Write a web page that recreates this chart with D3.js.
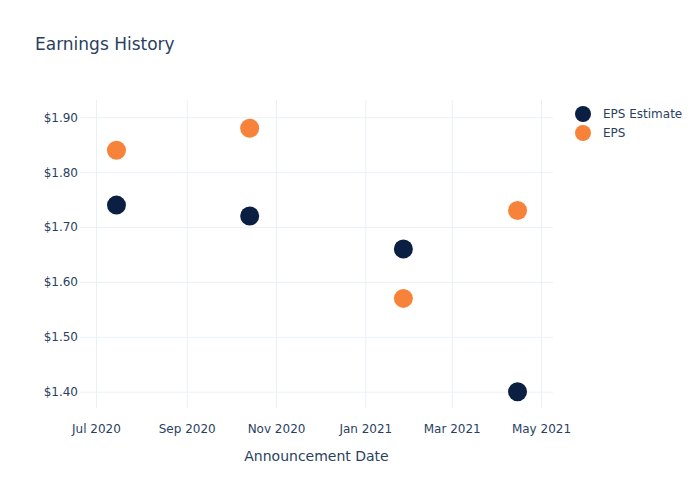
<!DOCTYPE html>
<html>
<head>
<meta charset="utf-8">
<script src="https://cdn.jsdelivr.net/npm/d3@7"></script>
<style>
  html, body { margin: 0; padding: 0; background: #fff; }
  svg { display: block; font-family: "DejaVu Sans", Verdana, sans-serif; }
</style>
</head>
<body>
<div id="chart"></div>
<script>
const dates = ["2020-07-15", "2020-10-14", "2021-01-27", "2021-04-15"];
const epsEstimate = [1.74, 1.72, 1.66, 1.40];
const eps = [1.84, 1.88, 1.57, 1.73];
const yTicks = [1.40, 1.50, 1.60, 1.70, 1.80, 1.90];
const xTicks = ["2020-07-01", "2020-09-01", "2020-11-01", "2021-01-01", "2021-03-01", "2021-05-01"];
const seriesNames = ["EPS Estimate", "EPS"];
const seriesColors = ["#0b1f42", "#f7823a"];

const W = 700, H = 500;
const m = { left: 80, right: 147, top: 100, bottom: 92 };
const textColor = "#2a3f5f";
const gridColor = "#ebf0f8";

const svg = d3.select("#chart").append("svg").attr("width", W).attr("height", H);

const x = d3.scaleUtc()
  .domain([new Date(Date.UTC(2020, 5, 20, 2)), new Date(Date.UTC(2021, 4, 9, 5))])
  .range([m.left, W - m.right]);
const y = d3.scaleLinear()
  .domain([1.3703, 1.9315])
  .range([H - m.bottom, m.top]);

const parse = d3.utcParse("%Y-%m-%d");

// grid + x axis
const xAxis = d3.axisBottom(x)
  .tickValues(xTicks.map(parse))
  .tickFormat(d3.utcFormat("%b %Y"))
  .tickSize(-(H - m.top - m.bottom))
  .tickPadding(16);
const gx = svg.append("g").attr("transform", `translate(0,${H - m.bottom})`).call(xAxis);
gx.select(".domain").remove();
gx.selectAll("line").attr("stroke", gridColor).attr("stroke-width", 1);
gx.selectAll("text").attr("fill", textColor).attr("font-size", 12)
  .attr("font-family", "DejaVu Sans, sans-serif");

// grid + y axis
const yAxis = d3.axisLeft(y)
  .tickValues(yTicks)
  .tickFormat(d => "$" + d.toFixed(2))
  .tickSize(-(W - m.left - m.right))
  .tickPadding(2);
const gy = svg.append("g").attr("transform", `translate(${m.left},0)`).call(yAxis);
gy.select(".domain").remove();
gy.selectAll("line").attr("stroke", gridColor).attr("stroke-width", 1);
gy.selectAll("text").attr("fill", textColor).attr("font-size", 12)
  .attr("font-family", "DejaVu Sans, sans-serif");

// points
const series = [epsEstimate, eps];
series.forEach((vals, si) => {
  svg.append("g").selectAll("circle")
    .data(vals.map((v, i) => ({ d: parse(dates[i]), v })))
    .join("circle")
    .attr("cx", d => x(d.d))
    .attr("cy", d => y(d.v))
    .attr("r", 9.5)
    .attr("fill", seriesColors[si]);
});

// title
svg.append("text").attr("x", 35).attr("y", 50)
  .attr("fill", textColor).attr("font-size", 17).text("Earnings History");

// x axis title
svg.append("text").attr("x", (m.left + W - m.right) / 2).attr("y", 461)
  .attr("text-anchor", "middle").attr("fill", textColor).attr("font-size", 14)
  .text("Announcement Date");

// legend
const lg = svg.append("g");
seriesNames.forEach((name, i) => {
  const yy = 114 + i * 19;
  lg.append("circle").attr("cx", 583).attr("cy", yy).attr("r", 8).attr("fill", seriesColors[i]);
  lg.append("text").attr("x", 603).attr("y", yy + 4).attr("fill", textColor)
    .attr("font-size", 12).text(name);
});
</script>
</body>
</html>
